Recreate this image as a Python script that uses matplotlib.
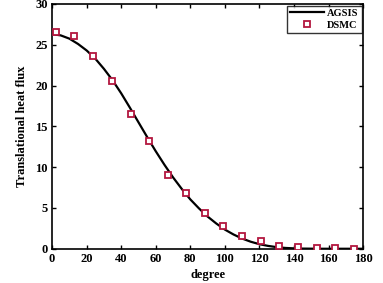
import numpy as np
import matplotlib.pyplot as plt

plt.rcParams['font.family'] = 'Liberation Serif'
plt.rcParams['font.weight'] = 'bold'

# AGSIS curve, read every 5 degrees
agsis_deg = [0, 5, 10, 15, 20, 25, 30, 35, 40, 45, 50, 55, 60, 65, 70, 75, 80, 85,
             90, 95, 100, 105, 110, 115, 120, 125, 130, 135, 140, 145, 150, 155,
             160, 165, 170, 175, 180]
agsis_flux = [26.3, 26.15, 25.75, 25.1, 24.3, 23.3, 22.05, 20.65, 19.05, 17.3, 15.5,
              13.7, 11.95, 10.3, 8.75, 7.35, 6.05, 4.95, 3.95, 3.1, 2.35, 1.75, 1.25,
              0.86, 0.56, 0.35, 0.2, 0.1, 0.05, 0.02, 0.01, 0.0, 0.0, 0.0, 0.0,
              0.0, 0.0]

# DSMC samples
dsmc_deg = [2.1, 12.7, 23.6, 34.4, 45.4, 56.2, 66.8, 77.6, 88.4, 99.2, 110.0,
            120.8, 131.6, 142.4, 153.2, 164.0, 174.8]
dsmc_flux = [26.6, 26.1, 23.6, 20.6, 16.5, 13.2, 9.1, 6.8, 4.4, 2.8, 1.6, 0.94,
             0.33, 0.17, 0.1, 0.05, 0.03]

fig = plt.figure(figsize=(3.83, 2.83), dpi=100)
ax = fig.add_axes([0.136, 0.121, 0.812, 0.865])

ax.plot(agsis_deg, agsis_flux, color='black', lw=1.6, label='AGSIS', zorder=2)
ax.plot(dsmc_deg, dsmc_flux, ls='none', marker='s', ms=4.2, mfc='white',
        mec='#b3173f', mew=1.3, label='DSMC', zorder=3)

ax.set_xlim(0, 180)
ax.set_ylim(0, 30)
ax.set_xticks(np.arange(0, 181, 20))
ax.set_yticks(np.arange(0, 31, 5))
ax.tick_params(direction='in', top=True, right=True, length=3, width=1,
               labelsize=9, pad=3)
for s in ax.spines.values():
    s.set_linewidth(1.2)

ax.set_xlabel('degree', fontsize=9, fontweight='bold', labelpad=3)
ax.set_ylabel('Translational heat flux', fontsize=9, fontweight='bold', labelpad=5)

leg = ax.legend(loc='upper right', fontsize=7.5, frameon=True, fancybox=False,
                edgecolor='black', borderpad=0.3, handlelength=3.2,
                handletextpad=0.3, labelspacing=0.25, borderaxespad=0.15)
leg.get_frame().set_linewidth(1.0)

fig.savefig('out.png', dpi=100)
